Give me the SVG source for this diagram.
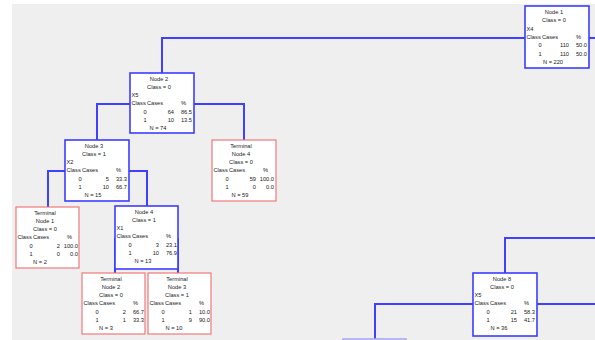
<svg xmlns="http://www.w3.org/2000/svg" width="595" height="340" viewBox="0 0 595 340">
<style>
.bg{fill:#efefef}
.n{fill:#fff;stroke:#3c3cff;stroke-width:1.6}
.t{fill:#fff;stroke:#f07878;stroke-width:1.2}
.c{fill:none;stroke:#4040ff;stroke-width:2}
text{font-family:"Liberation Sans",Arial,sans-serif;font-size:5.7px;fill:#1a1a1a}
.m{text-anchor:middle}
.r{text-anchor:end}
</style>
<rect x="0" y="0" width="595" height="340" fill="#fff"/>
<rect class="bg" x="12" y="4" width="583" height="336"/>
<g id="connectors">
<path class="c" d="M525 38H162V73"/>
<path class="c" d="M589 38H595"/>
<path class="c" d="M130 104H97V140"/>
<path class="c" d="M194 104H244V140"/>
<path class="c" d="M65 171H48V207"/>
<path class="c" d="M129 171H147V206"/>
<path class="c" d="M115 238V273"/>
<path class="c" d="M178 238V273"/>
<path class="c" d="M505 273V238H595"/>
<path class="c" d="M473 304H375V340"/>
<path class="c" d="M537 304H595"/>
</g>
<g id="node1" transform="translate(525,6)">
<rect class="n" width="64" height="62"/>
<text class="m" x="29" y="8">Node 1</text>
<text class="m" x="29" y="16.3">Class = 0</text>
<text x="1.5" y="24.6">X4</text>
<text x="1.5" y="32.9">Class</text><text x="17" y="32.9">Cases</text><text x="51" y="32.9">%</text>
<text class="m" x="15" y="41.2">0</text><text class="r" x="44" y="41.2">110</text><text class="r" x="62" y="41.2">50.0</text>
<text class="m" x="15" y="49.5">1</text><text class="r" x="44" y="49.5">110</text><text class="r" x="62" y="49.5">50.0</text>
<text class="m" x="28" y="58">N = 220</text>
</g>
<g id="node2" transform="translate(130,73)">
<rect class="n" width="64" height="60"/>
<text class="m" x="29" y="7.5">Node 2</text>
<text class="m" x="29" y="15.8">Class = 0</text>
<text x="1.5" y="24.1">X5</text>
<text x="1.5" y="32.4">Class</text><text x="17" y="32.4">Cases</text><text x="51" y="32.4">%</text>
<text class="m" x="15" y="40.7">0</text><text class="r" x="44" y="40.7">64</text><text class="r" x="62" y="40.7">86.5</text>
<text class="m" x="15" y="49">1</text><text class="r" x="44" y="49">10</text><text class="r" x="62" y="49">13.5</text>
<text class="m" x="28" y="57.3">N = 74</text>
</g>
<g id="node3" transform="translate(65,140)">
<rect class="n" width="64" height="61"/>
<text class="m" x="29" y="7.5">Node 3</text>
<text class="m" x="29" y="15.8">Class = 1</text>
<text x="1.5" y="24.1">X2</text>
<text x="1.5" y="32.4">Class</text><text x="17" y="32.4">Cases</text><text x="51" y="32.4">%</text>
<text class="m" x="15" y="40.7">0</text><text class="r" x="44" y="40.7">5</text><text class="r" x="62" y="40.7">33.3</text>
<text class="m" x="15" y="49">1</text><text class="r" x="44" y="49">10</text><text class="r" x="62" y="49">66.7</text>
<text class="m" x="28" y="57.3">N = 15</text>
</g>
<g id="terminal4" transform="translate(212,140)">
<rect class="t" width="64" height="61"/>
<text class="m" x="29" y="7.5">Terminal</text>
<text class="m" x="29" y="15.8">Node 4</text>
<text class="m" x="29" y="24.1">Class = 0</text>
<text x="1.5" y="32.4">Class</text><text x="17" y="32.4">Cases</text><text x="51" y="32.4">%</text>
<text class="m" x="15" y="40.7">0</text><text class="r" x="44" y="40.7">59</text><text class="r" x="62" y="40.7">100.0</text>
<text class="m" x="15" y="49">1</text><text class="r" x="44" y="49">0</text><text class="r" x="62" y="49">0.0</text>
<text class="m" x="28" y="57.3">N = 59</text>
</g>
<g id="terminal1" transform="translate(16,207)">
<rect class="t" width="63" height="61"/>
<text class="m" x="29" y="7.5">Terminal</text>
<text class="m" x="29" y="15.8">Node 1</text>
<text class="m" x="29" y="24.1">Class = 0</text>
<text x="1.5" y="32.4">Class</text><text x="17" y="32.4">Cases</text><text x="51" y="32.4">%</text>
<text class="m" x="15" y="40.7">0</text><text class="r" x="44" y="40.7">2</text><text class="r" x="62" y="40.7">100.0</text>
<text class="m" x="15" y="49">1</text><text class="r" x="44" y="49">0</text><text class="r" x="62" y="49">0.0</text>
<text class="m" x="24" y="57.3">N = 2</text>
</g>
<g id="node4" transform="translate(115,206)">
<rect class="n" width="63" height="63"/>
<text class="m" x="29" y="7.5">Node 4</text>
<text class="m" x="29" y="15.8">Class = 1</text>
<text x="1.5" y="24.1">X1</text>
<text x="1.5" y="32.4">Class</text><text x="17" y="32.4">Cases</text><text x="51" y="32.4">%</text>
<text class="m" x="15" y="40.7">0</text><text class="r" x="44" y="40.7">3</text><text class="r" x="62" y="40.7">23.1</text>
<text class="m" x="15" y="49">1</text><text class="r" x="44" y="49">10</text><text class="r" x="62" y="49">76.9</text>
<text class="m" x="28" y="57.3">N = 13</text>
</g>
<g id="terminal2" transform="translate(82,273)">
<rect class="t" width="63" height="61"/>
<text class="m" x="29" y="7.5">Terminal</text>
<text class="m" x="29" y="15.8">Node 2</text>
<text class="m" x="29" y="24.1">Class = 0</text>
<text x="1.5" y="32.4">Class</text><text x="17" y="32.4">Cases</text><text x="51" y="32.4">%</text>
<text class="m" x="15" y="40.7">0</text><text class="r" x="44" y="40.7">2</text><text class="r" x="62" y="40.7">66.7</text>
<text class="m" x="15" y="49">1</text><text class="r" x="44" y="49">1</text><text class="r" x="62" y="49">33.3</text>
<text class="m" x="24" y="57.3">N = 3</text>
</g>
<g id="terminal3" transform="translate(148,273)">
<rect class="t" width="63" height="61"/>
<text class="m" x="29" y="7.5">Terminal</text>
<text class="m" x="29" y="15.8">Node 3</text>
<text class="m" x="29" y="24.1">Class = 1</text>
<text x="1.5" y="32.4">Class</text><text x="17" y="32.4">Cases</text><text x="51" y="32.4">%</text>
<text class="m" x="15" y="40.7">0</text><text class="r" x="44" y="40.7">1</text><text class="r" x="62" y="40.7">10.0</text>
<text class="m" x="15" y="49">1</text><text class="r" x="44" y="49">9</text><text class="r" x="62" y="49">90.0</text>
<text class="m" x="26" y="57.3">N = 10</text>
</g>
<g id="node8" transform="translate(473,273)">
<rect class="n" width="64" height="63"/>
<text class="m" x="29" y="7.5">Node 8</text>
<text class="m" x="29" y="15.8">Class = 0</text>
<text x="1.5" y="24.1">X5</text>
<text x="1.5" y="32.4">Class</text><text x="17" y="32.4">Cases</text><text x="51" y="32.4">%</text>
<text class="m" x="15" y="40.7">0</text><text class="r" x="44" y="40.7">21</text><text class="r" x="62" y="40.7">58.3</text>
<text class="m" x="15" y="49">1</text><text class="r" x="44" y="49">15</text><text class="r" x="62" y="49">41.7</text>
<text class="m" x="26" y="57.3">N = 36</text>
</g>
<g id="node-partial">
<rect x="343" y="339" width="63" height="20" fill="#fff" stroke="#a8a8f4" stroke-width="1.6"/>
</g>
</svg>
